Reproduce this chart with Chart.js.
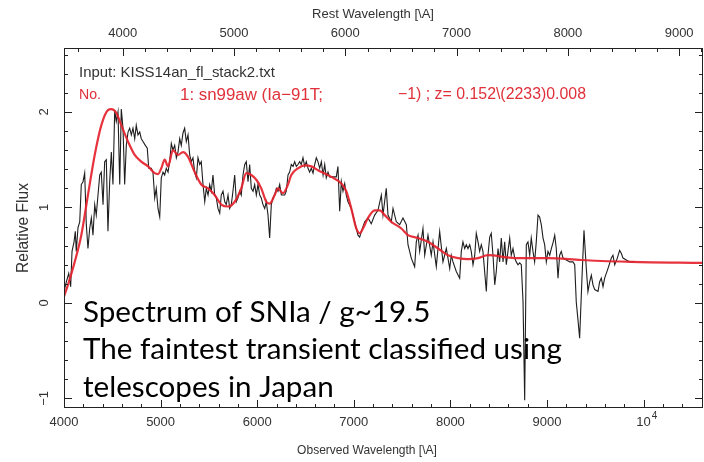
<!DOCTYPE html>
<html>
<head>
<meta charset="utf-8">
<script src="https://cdn.jsdelivr.net/npm/chart.js@4"></script>
<style>
  html, body { margin: 0; padding: 0; background: #fff; }
  #wrap { width: 704px; height: 462px; }
</style>
</head>
<body>
<div id="wrap"><canvas id="specChart" width="704" height="462"></canvas></div>
<script>
// redshift of the template match, links the two wavelength axes
const Z = 0.152;
const X_MIN = 4000, X_MAX = 10615;
const Y_MIN = -1.1, Y_MAX = 2.67;

// observed spectrum [observed wavelength, relative flux]
const spectrum = [
  [4000,0.12],[4024,0.22],[4049,0.31],[4069,0.17],[4083,0.54],[4104,0.64],[4117,0.75],[4127,0.54],[4145,0.79],[4163,0.85],
  [4179,1.24],[4197,1.27],[4214,1.36],[4231,0.82],[4248,0.57],[4266,0.78],[4283,0.89],[4300,0.71],[4318,1.03],[4334,0.92],
  [4352,1.13],[4370,1.34],[4386,1.37],[4404,1.03],[4421,1.48],[4438,1.50],[4455,0.75],[4473,1.27],[4490,1.58],[4507,1.24],
  [4525,2.02],[4541,1.90],[4559,2.00],[4577,1.24],[4593,2.03],[4611,1.83],[4628,1.24],[4645,1.65],[4663,1.79],[4680,1.83],
  [4697,1.76],[4714,1.83],[4732,1.72],[4748,1.86],[4766,1.76],[4784,1.79],[4800,1.72],[4818,1.69],[4842,1.65],[4862,1.62],
  [4877,1.41],[4904,1.41],[4921,1.37],[4939,1.10],[4955,1.20],[4973,0.99],[4991,0.90],[5007,1.31],[5025,1.37],[5042,1.34],
  [5059,1.41],[5077,1.37],[5094,1.48],[5111,1.67],[5128,1.60],[5146,1.65],[5163,1.52],[5180,1.58],[5198,1.72],[5214,1.65],
  [5232,1.78],[5249,1.83],[5266,1.69],[5284,1.76],[5301,1.55],[5318,1.48],[5335,1.52],[5353,1.37],[5370,1.31],[5387,1.52],
  [5405,1.45],[5421,1.48],[5439,1.24],[5457,1.06],[5473,1.20],[5491,1.13],[5508,1.24],[5525,1.17],[5542,1.34],[5560,1.13],
  [5577,1.10],[5594,0.99],[5612,0.94],[5628,1.13],[5646,1.17],[5664,1.06],[5680,1.03],[5698,1.13],[5715,0.99],[5732,1.03],
  [5749,1.17],[5767,1.34],[5784,1.06],[5801,1.10],[5819,1.17],[5835,1.13],[5853,1.34],[5871,1.45],[5887,1.48],[5905,1.27],
  [5922,1.45],[5939,1.20],[5957,1.17],[5974,1.24],[5991,1.13],[6008,1.24],[6026,1.13],[6042,1.10],[6060,1.03],[6078,0.99],
  [6094,1.06],[6112,0.92],[6129,0.68],[6146,1.03],[6164,1.10],[6181,1.13],[6198,1.20],[6215,1.17],[6233,1.24],[6250,1.13],
  [6285,1.13],[6301,1.17],[6319,1.34],[6336,1.37],[6353,1.45],[6371,1.43],[6388,1.48],[6405,1.43],[6422,1.45],[6440,1.48],
  [6456,1.45],[6474,1.52],[6492,1.43],[6508,1.48],[6526,1.41],[6543,1.37],[6560,1.41],[6578,1.36],[6595,1.45],[6612,1.52],
  [6629,1.48],[6647,1.41],[6664,1.48],[6682,1.34],[6699,1.45],[6715,1.31],[6733,1.37],[6750,1.32],[6785,1.32],[6819,1.32],
  [6836,1.43],[6854,0.96],[6871,1.27],[6888,1.17],[6906,1.25],[6922,1.13],[6940,1.06],[6974,0.99],[7009,0.85],[7043,0.71],
  [7061,0.69],[7078,0.75],[7113,0.85],[7147,0.89],[7181,0.83],[7216,0.92],[7250,0.97],[7285,1.13],[7302,0.92],[7336,1.20],
  [7354,0.92],[7388,0.85],[7406,0.99],[7440,0.85],[7475,0.82],[7509,0.89],[7544,0.82],[7561,0.61],[7595,0.47],[7630,0.38],
  [7647,0.64],[7665,0.71],[7682,0.54],[7716,0.78],[7734,0.50],[7768,0.71],[7802,0.50],[7820,0.64],[7854,0.38],[7889,0.75],
  [7923,0.43],[7958,0.57],[7993,0.36],[8009,0.50],[8027,0.43],[8061,0.33],[8096,0.26],[8113,0.54],[8130,0.64],[8148,0.57],
  [8165,0.61],[8182,0.57],[8200,0.61],[8216,0.54],[8234,0.40],[8252,0.50],[8268,0.73],[8286,0.64],[8303,0.54],[8320,0.61],
  [8337,0.54],[8372,0.12],[8389,0.50],[8407,0.69],[8423,0.73],[8441,0.50],[8459,0.19],[8475,0.33],[8493,0.57],[8510,0.43],
  [8527,0.68],[8545,0.43],[8562,0.64],[8579,0.40],[8596,0.54],[8614,0.68],[8630,0.50],[8648,0.57],[8666,0.47],[8682,0.43],
  [8700,0.40],[8717,0.42],[8734,0.40],[8752,0.01],[8769,-1.02],[8786,0.61],[8803,0.64],[8821,0.50],[8837,0.68],[8855,0.54],
  [8872,0.43],[8889,0.64],[8907,0.92],[8924,0.90],[8941,0.82],[8959,0.68],[8976,0.61],[8993,0.43],[9010,0.54],[9028,0.50],
  [9045,0.57],[9062,0.63],[9080,0.71],[9096,0.57],[9114,0.26],[9131,0.50],[9148,0.54],[9166,0.47],[9200,0.45],[9235,0.43],
  [9269,0.43],[9287,0.40],[9303,0.01],[9321,-0.18],[9338,-0.37],[9362,0.26],[9383,0.76],[9407,0.36],[9424,0.12],[9442,0.22],
  [9459,0.29],[9476,0.19],[9494,0.14],[9528,0.12],[9545,0.22],[9562,0.26],[9580,0.17],[9597,0.26],[9631,0.36],[9666,0.47],
  [9683,0.50],[9701,0.40],[9728,0.47],[9752,0.55],[9769,0.52],[9787,0.47],[9821,0.45],[9856,0.43],[9908,0.43]
];

// template sn99aw (Ia-91T) redshifted to z=0.152
const template = [
  [4000,0.07],[4041,0.19],[4111,0.43],[4179,0.71],[4248,1.13],[4318,1.55],[4386,1.86],[4455,2.02],[4490,2.03],[4541,1.99],
  [4593,1.86],[4663,1.69],[4732,1.55],[4800,1.48],[4870,1.43],[4939,1.36],[4973,1.35],[5007,1.41],[5042,1.50],[5077,1.43],
  [5128,1.60],[5180,1.55],[5232,1.58],[5284,1.53],[5353,1.37],[5421,1.24],[5491,1.20],[5560,1.13],[5628,1.03],[5698,1.01],
  [5767,1.06],[5835,1.20],[5887,1.36],[5939,1.34],[5991,1.29],[6042,1.20],[6094,1.06],[6129,1.04],[6181,1.13],[6215,1.20],
  [6267,1.15],[6319,1.24],[6353,1.34],[6422,1.41],[6492,1.44],[6560,1.43],[6629,1.39],[6767,1.32],[6871,1.25],[6922,1.17],
  [6974,0.99],[7026,0.78],[7061,0.73],[7095,0.78],[7147,0.89],[7216,0.97],[7268,0.97],[7320,0.92],[7388,0.85],[7492,0.78],
  [7561,0.71],[7665,0.68],[7768,0.64],[7872,0.57],[7975,0.50],[8079,0.47],[8182,0.46],[8286,0.47],[8389,0.50],[8666,0.47],
  [9010,0.47],[9355,0.45],[9870,0.43],[10615,0.42]
];

// axis labels ('10^4' gets a raised exponent)
const obsTicks = [4000, 5000, 6000, 7000, 8000, 9000, 10000];
const obsTickLabels = ['4000', '5000', '6000', '7000', '8000', '9000', '10^4'];
const restTicks = [4000, 5000, 6000, 7000, 8000, 9000];
const restTickLabels = ['4000', '5000', '6000', '7000', '8000', '9000'];
const fluxTicks = [-1, 0, 1, 2];
const fluxTickLabels = ['−1', '0', '1', '2'];

const noteLines = ['Spectrum of SNIa / g~19.5', 'The faintest transient classified using', 'telescopes in Japan'];

const AXIS_FONT = '"Liberation Sans", Arial, sans-serif';

// font size that makes text fill the given width
function fitSize(ctx, text, family, width) {
    ctx.font = '100px ' + family;
    return 100 * width / ctx.measureText(text).width;
}

function fitText(ctx, text, family, x, y, width, align) {
    const size = fitSize(ctx, text, family, width);
    ctx.font = size.toFixed(2) + 'px ' + family;
    ctx.textAlign = align || 'left';
    ctx.fillText(text, x, y);
}

// tick label with optional power part, centred on the mantissa
function tickLabel(ctx, label, x, y) {
    const parts = label.split('^');
    ctx.font = '13px ' + AXIS_FONT;
    ctx.textAlign = 'center';
    ctx.fillText(parts[0], x, y);
    if (parts.length > 1) {
        const w = ctx.measureText(parts[0]).width;
        ctx.font = '10px ' + AXIS_FONT;
        ctx.textAlign = 'left';
        ctx.fillText(parts[1], x + w / 2 + 1, y - 6);
    }
}

const framePlugin = {
    id: 'specFrame',
    beforeDraw(chart) {
        const ctx = chart.ctx;
        ctx.save();
        ctx.fillStyle = '#fff';
        ctx.fillRect(0, 0, chart.width, chart.height);
        ctx.restore();
    },
    afterDatasetsDraw(chart) {
        const { ctx, chartArea: a } = chart;
        const xs = chart.scales.x, xr = chart.scales.xRest, ys = chart.scales.y;
        ctx.save();

        // frame + inward ticks
        ctx.strokeStyle = '#222';
        ctx.lineWidth = 1;
        ctx.strokeRect(a.left + 0.5, a.top + 0.5, a.right - a.left - 1, a.bottom - a.top - 1);
        ctx.beginPath();
        for (let w = 4000; w <= X_MAX; w += 200) {
            const px = Math.round(xs.getPixelForValue(w)) + 0.5;
            const len = w % 1000 === 0 ? 8 : 4;
            ctx.moveTo(px, a.bottom); ctx.lineTo(px, a.bottom - len);
        }
        for (let w = Math.ceil(xr.min / 200) * 200; w <= xr.max; w += 200) {
            const px = Math.round(xr.getPixelForValue(w)) + 0.5;
            const len = w % 1000 === 0 ? 8 : 4;
            ctx.moveTo(px, a.top); ctx.lineTo(px, a.top + len);
        }
        for (let i = -5; i * 0.2 <= Y_MAX; i++) {
            const py = Math.round(ys.getPixelForValue(i * 0.2)) + 0.5;
            const len = i % 5 === 0 ? 8 : 4;
            ctx.moveTo(a.left, py); ctx.lineTo(a.left + len, py);
            ctx.moveTo(a.right, py); ctx.lineTo(a.right - len, py);
        }
        ctx.stroke();

        // tick labels
        ctx.fillStyle = '#333';
        ctx.textBaseline = 'middle';
        obsTicks.forEach((w, i) => tickLabel(ctx, obsTickLabels[i], xs.getPixelForValue(w), 422));
        restTicks.forEach((w, i) => tickLabel(ctx, restTickLabels[i], xr.getPixelForValue(w), 33));
        ctx.font = '13px ' + AXIS_FONT;
        ctx.textAlign = 'center';
        fluxTicks.forEach((v, i) => {
            ctx.save();
            ctx.translate(44, ys.getPixelForValue(v));
            ctx.rotate(-Math.PI / 2);
            ctx.fillText(fluxTickLabels[i], 0, 0);
            ctx.restore();
        });

        // axis titles
        fitText(ctx, 'Rest Wavelength [\\A]', AXIS_FONT, 373, 14, 122, 'center');
        fitText(ctx, 'Observed Wavelength [\\A]', AXIS_FONT, 367, 451, 140, 'center');
        ctx.save();
        ctx.translate(24, (a.top + a.bottom) / 2);
        ctx.rotate(-Math.PI / 2);
        fitText(ctx, 'Relative Flux', AXIS_FONT, 0, 0, 90, 'center');
        ctx.restore();

        // SNID header lines
        fitText(ctx, 'Input: KISS14an_fl_stack2.txt', AXIS_FONT, 79, 73, 196);
        ctx.fillStyle = '#e0303a';
        fitText(ctx, 'No.', AXIS_FONT, 79, 95, 22);
        fitText(ctx, '1: sn99aw (Ia−91T;', AXIS_FONT, 180, 95, 143);
        fitText(ctx, '−1) ; z= 0.152\\(2233)0.008', AXIS_FONT, 398, 95, 188);

        // slide note
        const noteFont = 'Lato, "Open Sans", sans-serif';
        const noteSize = fitSize(ctx, noteLines[1], noteFont, 479);
        ctx.fillStyle = '#000';
        ctx.textAlign = 'left';
        ctx.textBaseline = 'alphabetic';
        ctx.font = noteSize.toFixed(2) + 'px ' + noteFont;
        [322, 359, 397].forEach((y, i) => ctx.fillText(noteLines[i], 83, y));

        ctx.restore();
    }
};

const hiddenAxis = {
    ticks: { display: false },
    grid: { display: false, drawTicks: false },
    border: { display: false }
};

const ctx = document.getElementById('specChart').getContext('2d');
new Chart(ctx, {
    type: 'scatter',
    data: {
        datasets: [
            {
                label: 'sn99aw',
                data: template.map(([w, f]) => ({ x: w, y: f })),
                showLine: true,
                borderColor: 'rgba(228, 34, 44, 0.92)',
                borderWidth: 2.2,
                pointRadius: 0,
                cubicInterpolationMode: 'monotone',
                xAxisID: 'x'
            },
            {
                label: 'KISS14an',
                data: spectrum.map(([w, f]) => ({ x: w, y: f })),
                showLine: true,
                borderColor: '#1e1e1e',
                borderWidth: 1.1,
                pointRadius: 0,
                tension: 0,
                xAxisID: 'x'
            }
        ]
    },
    options: {
        responsive: false,
        animation: false,
        devicePixelRatio: 1,
        events: [],
        layout: { padding: { left: 0, right: 1, top: 0, bottom: 0 } },
        plugins: {
            legend: { display: false },
            tooltip: { enabled: false }
        },
        scales: {
            x: Object.assign({ type: 'linear', position: 'bottom', min: X_MIN, max: X_MAX,
                afterFit: s => { s.height = 54; } }, hiddenAxis),
            xRest: Object.assign({ type: 'linear', position: 'top', min: X_MIN / (1 + Z), max: X_MAX / (1 + Z),
                afterFit: s => { s.height = 48; } }, hiddenAxis),
            y: Object.assign({ type: 'linear', position: 'left', min: Y_MIN, max: Y_MAX,
                afterFit: s => { s.width = 64; } }, hiddenAxis)
        }
    },
    plugins: [framePlugin]
});
</script>
</body>
</html>
